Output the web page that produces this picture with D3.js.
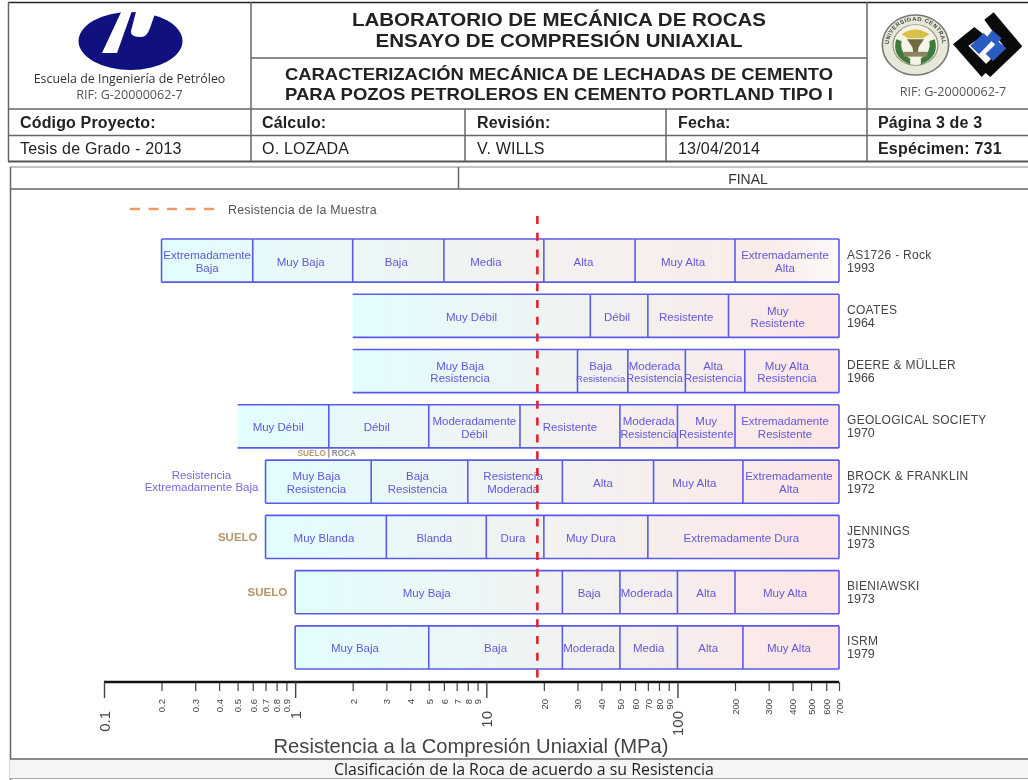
<!DOCTYPE html>
<html>
<head>
<meta charset="utf-8">
<script src="https://cdn.jsdelivr.net/npm/d3@7"></script>
<style>
    html, body { margin: 0; padding: 0; background: #fff; overflow: hidden; }
    svg { display: block; filter: blur(0.5px); font-family: "Liberation Sans", Arial, sans-serif; }
</style>
</head>
<body>
<svg id="chart" width="1028" height="780"></svg>
<script>
// classification schemes, top to bottom
const schemes = ["AS1726 - Rock", "COATES", "DEERE & MÜLLER", "GEOLOGICAL SOCIETY", "BROCK & FRANKLIN", "JENNINGS", "BIENIAWSKI", "ISRM"]
const years = ["1993", "1964", "1966", "1970", "1972", "1973", "1973", "1979"]

// class limits in MPa for each scheme
const limits = [
    [0.2, 0.6, 2, 6, 20, 60, 200, 700],
    [2, 35, 70, 185, 700],
    [2, 30, 55, 110, 225, 700],
    [0.5, 1.5, 5, 15, 50, 100, 200, 700],
    [0.7, 2.5, 8, 25, 75, 220, 700],
    [0.7, 3, 10, 20, 70, 700],
    [1, 25, 50, 100, 200, 700],
    [1, 5, 25, 50, 100, 220, 700],
]

const classNames = [
    ["Extremadamente\nBaja", "Muy Baja", "Baja", "Media", "Alta", "Muy Alta", "Extremadamente\nAlta"],
    ["Muy Débil", "Débil", "Resistente", "Muy\nResistente"],
    ["Muy Baja\nResistencia", "Baja\nResistencia", "Moderada\nResistencia", "Alta\nResistencia", "Muy Alta\nResistencia"],
    ["Muy Débil", "Débil", "Moderadamente\nDébil", "Resistente", "Moderada\nResistencia", "Muy\nResistente", "Extremadamente\nResistente"],
    ["Muy Baja\nResistencia", "Baja\nResistencia", "Resistencia\nModerada", "Alta", "Muy Alta", "Extremadamente\nAlta"],
    ["Muy Blanda", "Blanda", "Dura", "Muy Dura", "Extremadamente Dura"],
    ["Muy Baja", "Baja", "Moderada", "Alta", "Muy Alta"],
    ["Muy Baja", "Baja", "Moderada", "Media", "Alta", "Muy Alta"],
]

const openLeft = ["COATES", "DEERE & MÜLLER", "GEOLOGICAL SOCIETY"]
const sueloRows = ["JENNINGS", "BIENIAWSKI"]

const sampleStrength = 18.5
const soilRockLimit = 1.5

const majorTicks = [0.1, 1, 10, 100]
const minorTicks = [0.2, 0.3, 0.4, 0.5, 0.6, 0.7, 0.8, 0.9, 2, 3, 4, 5, 6, 7, 8, 9,
    20, 30, 40, 50, 60, 70, 80, 90, 200, 300, 400, 500, 600, 700]

const svg = d3.select("#chart")

const x = d3.scaleLog().domain([0.1, 700]).range([104, 839])
const y = d3.scaleBand().domain(schemes).range([239, 669]).paddingInner(0.22)

const barStroke = "#5b5bea"
const barText = "#6257d8"
const lineGrey = "#666"

// some labels sit off the middle of their box in the original
const labelNudge = {
    "0|0": 0, "0|3": -8, "0|4": -6, "1|0": 0, "1|3": -6, "2|0": -5, "2|4": -5, "3|0": -5,
    "3|2": 0, "3|3": 0, "3|4": 0, "3|5": 0, "4|3": -5, "4|4": -4, "5|3": -5,
    "6|1": -2, "6|3": 0, "7|0": -7, "7|1": 0, "7|3": 0,
}

// ---------- report header ----------
function hline(x1, x2, yy, w = 1.5, c = lineGrey) {
    svg.append("line").attr("x1", x1).attr("x2", x2).attr("y1", yy).attr("y2", yy)
        .attr("stroke", c).attr("stroke-width", w)
}

function vline(xx, y1, y2, w = 1.5, c = lineGrey) {
    svg.append("line").attr("x1", xx).attr("x2", xx).attr("y1", y1).attr("y2", y2)
        .attr("stroke", c).attr("stroke-width", w)
}

function label(t, xx, yy, size, opts = {}) {
    const el = svg.append("text")
        .attr("x", xx).attr("y", yy)
        .attr("font-size", size)
        .attr("font-weight", opts.weight || "normal")
        .attr("font-family", opts.family || null)
        .attr("text-anchor", opts.anchor || "start")
        .attr("fill", opts.color || "#222")
        .attr("letter-spacing", opts.spacing || null)
        .text(t)
    if (opts.stretch) el.attr("textLength", opts.stretch).attr("lengthAdjust", "spacingAndGlyphs")
    return el
}

hline(8, 1028, 2.5, 1.5, "#222")
vline(8.5, 2, 161)
hline(251, 867, 58)
hline(8, 1028, 109)
hline(8, 1028, 135.5)
hline(8, 1028, 161.5, 2, "#555")
vline(251, 2, 161)
vline(867, 2, 161)
vline(465, 109, 161)
vline(666, 109, 161)

hline(10, 1028, 167, 1.2, "#888")
vline(10.5, 167, 780, 1.5)
vline(458.5, 167, 189)
hline(10, 1028, 189, 1.5)

label("LABORATORIO DE MECÁNICA DE ROCAS", 559, 26, 18.4, {weight: "bold", anchor: "middle", stretch: 414})
label("ENSAYO DE COMPRESIÓN UNIAXIAL", 559, 47, 18.4, {weight: "bold", anchor: "middle", stretch: 367})
label("CARACTERIZACIÓN MECÁNICA DE LECHADAS DE CEMENTO", 559, 80, 16.6, {weight: "bold", anchor: "middle", stretch: 548})
label("PARA POZOS PETROLEROS EN CEMENTO PORTLAND TIPO I", 559, 100, 16.6, {weight: "bold", anchor: "middle", stretch: 548})

const headerCells = ["Código Proyecto:", "Cálculo:", "Revisión:", "Fecha:", "Página 3 de 3"]
const valueCells = ["Tesis de Grado - 2013", "O. LOZADA", "V. WILLS", "13/04/2014", "Espécimen: 731"]
const cellLeft = [20, 262, 477, 678, 878]
headerCells.forEach((t, i) => label(t, cellLeft[i], 128, 16, {weight: "bold", spacing: 0.15}))
valueCells.forEach((t, i) => label(t, cellLeft[i], 154, 16, {weight: i === 4 ? "bold" : "normal", spacing: 0.2}))
label("FINAL", 748, 184, 14, {anchor: "middle", color: "#333"})

label("Escuela de Ingeniería de Petróleo", 129.5, 83, 12.4, {anchor: "middle", family: "Open Sans", color: "#333"})
label("RIF: G-20000062-7", 129.5, 99, 12.6, {anchor: "middle", family: "Open Sans", color: "#555"})
label("RIF: G-20000062-7", 953, 96, 12.6, {anchor: "middle", family: "Open Sans", color: "#555"})

// school logo
const logo = svg.append("g")
logo.append("ellipse").attr("cx", 130.5).attr("cy", 41).attr("rx", 52).attr("ry", 29).attr("fill", "#10107e")
logo.append("path").attr("d", "M123,8 L133,8 L117,53 L102,53 Z").attr("fill", "#fff")
logo.append("path").attr("d", "M137,8 L131,31 Q130,37 141,37 Q147,37 150,28 L157,8 Z").attr("fill", "#fff")

// university seal
const seal = svg.append("g").attr("transform", "translate(915.5,45) scale(1.07,0.97)")
seal.append("circle").attr("r", 31).attr("fill", "#e8e8da").attr("stroke", "#777").attr("stroke-width", 1.5)
seal.append("circle").attr("r", 21).attr("fill", "#f6f4e8").attr("stroke", "#8c8c70").attr("stroke-width", 1)
svg.append("defs").append("path").attr("id", "sealRing").attr("d", "M-24,6 A24.8,24.8 0 1,1 24,6")
seal.append("text").attr("font-size", 5.6).attr("font-weight", "bold").attr("fill", "#444").attr("letter-spacing", 0.5)
    .append("textPath").attr("href", "#sealRing").attr("startOffset", "50%").attr("text-anchor", "middle")
    .text("UNIVERSIDAD CENTRAL")
seal.append("path").attr("d", "M-18,-6 Q-23,12 -5,20 L-5,14 Q-15,8 -13,-4 Z").attr("fill", "#3d7a3c")
seal.append("path").attr("d", "M18,-6 Q23,12 5,20 L5,14 Q15,8 13,-4 Z").attr("fill", "#3d7a3c")
seal.append("path").attr("d", "M-13,-11 Q0,-21 13,-11 L7,-7 L-7,-7 Z").attr("fill", "#d6c24a")
seal.append("path").attr("d", "M-8,-6 L8,-6 L3,2 L2,8 L-2,8 L-3,2 Z").attr("fill", "#6f6a44")
seal.append("rect").attr("x", -11).attr("y", 7).attr("width", 22).attr("height", 5).attr("fill", "#8a8460")

// foundation logo
const mark = svg.append("g").attr("transform", "translate(875,5) scale(0.3333)")
mark.append("path").attr("fill", "#0a0a0a")
    .attr("d", "M328,44 L356,22 L442,124 L346,216 L318,192 L386,124 Z")
mark.append("path").attr("fill", "#0a0a0a")
    .attr("d", "M234,118 L298,66 L328,90 L280,122 L346,190 L320,216 Z")
mark.append("path").attr("fill", "#2b5cc4").attr("d", "M286,122 L326,84 L350,108 L312,148 Z")
mark.append("path").attr("fill", "#2b5cc4").attr("d", "M352,76 L380,100 L362,120 L336,96 Z")
mark.append("path").attr("fill", "#2b5cc4").attr("d", "M370,110 L394,130 L354,168 L332,146 Z")

// ---------- sample legend ----------
svg.append("line").attr("x1", 130).attr("x2", 215).attr("y1", 209).attr("y2", 209)
    .attr("stroke", "#ee9a62").attr("stroke-width", 2.4).attr("stroke-dasharray", "10 8.5")
label("Resistencia de la Muestra", 228, 214, 12.4, {color: "#555", spacing: 0.25})

// ---------- classification bars ----------
const defs = svg.append("defs")
schemes.forEach((s, i) => {
    const g = defs.append("linearGradient").attr("id", `grad${i}`)
    const first = i === 0
    g.append("stop").attr("offset", "0%").attr("stop-color", "#e2fdff")
    g.append("stop").attr("offset", "50%").attr("stop-color", "#f1f2f1")
    g.append("stop").attr("offset", first ? "90%" : "100%").attr("stop-color", first ? "#f9ece8" : "#fee6e6")
    if (first) g.append("stop").attr("offset", "100%").attr("stop-color", "#fdfafa")
})

const rows = svg.selectAll("g.scheme").data(schemes).join("g").attr("class", "scheme")

rows.each(function (s, i) {
    const row = d3.select(this)
    const lim = limits[i]
    const top = y(s), bottom = y(s) + y.bandwidth()
    const x0 = x(lim[0]), x1 = x(lim[lim.length - 1])

    row.append("rect").attr("x", x0).attr("y", top).attr("width", x1 - x0).attr("height", bottom - top)
        .attr("fill", `url(#grad${i})`)

    ;[top, bottom].forEach(v => row.append("line")
        .attr("x1", x0).attr("x2", x1).attr("y1", v).attr("y2", v)
        .attr("stroke", barStroke).attr("stroke-width", 1.6))

    lim.forEach((v, k) => {
        if (k === 0 && openLeft.includes(s)) return
        row.append("line").attr("x1", x(v)).attr("x2", x(v)).attr("y1", top).attr("y2", bottom)
            .attr("stroke", barStroke).attr("stroke-width", 1.6)
    })

    classNames[i].forEach((name, k) => {
        const nudge = labelNudge[`${i}|${k}`] ?? -2
        const cx = (x(lim[k]) + x(lim[k + 1])) / 2 + nudge
        const width = x(lim[k + 1]) - x(lim[k]) - 1
        const lines = name.split("\n")
        const mid = (top + bottom) / 2
        lines.forEach((ln, n) => {
            const t = row.append("text").attr("x", cx)
                .attr("y", mid + 5 + (n - (lines.length - 1) / 2) * 12.5)
                .attr("text-anchor", "middle").attr("font-size", 11.5).attr("fill", barText).text(ln)
            // long words shrink to fit their class box
            const len = t.node().getComputedTextLength()
            if (len > width) t.attr("font-size", 11.5 * width / len)
        })
    })

    row.append("text").attr("x", 847).attr("y", (top + bottom) / 2 - 2)
        .attr("font-size", 12).attr("fill", "#444").attr("letter-spacing", 0.3).text(s)
    row.append("text").attr("x", 847).attr("y", (top + bottom) / 2 + 11)
        .attr("font-size", 12.5).attr("fill", "#444").text(years[i])

    if (sueloRows.includes(s)) {
        row.append("text").attr("x", x0 - 8).attr("y", (top + bottom) / 2 + 4)
            .attr("text-anchor", "end").attr("font-size", 11.5).attr("font-weight", "bold")
            .attr("fill", "#b5956a").text("SUELO")
    }
})

// label left of the Brock & Franklin bar
const brockMid = y("BROCK & FRANKLIN") + y.bandwidth() / 2
const brockX = x(limits[4][0]) - 64
label("Resistencia", brockX, brockMid - 3, 11.5, {anchor: "middle", color: "#7468e0"})
label("Extremadamente Baja", brockX, brockMid + 9.5, 11.5, {anchor: "middle", color: "#7468e0"})

// soil / rock marker under the Geological Society bar
const geoBottom = y("GEOLOGICAL SOCIETY") + y.bandwidth()
vline(x(soilRockLimit), geoBottom, geoBottom + 10, 1.2, "#888")
label("SUELO", x(soilRockLimit) - 3, geoBottom + 8, 8.2, {anchor: "end", weight: "bold", color: "#b8a070"})
label("ROCA", x(soilRockLimit) + 3, geoBottom + 8, 8.2, {weight: "bold", color: "#888"})

// sample strength line
svg.append("line").attr("x1", x(sampleStrength)).attr("x2", x(sampleStrength)).attr("y1", 216).attr("y2", 681)
    .attr("stroke", "#e8202e").attr("stroke-width", 2.6).attr("stroke-dasharray", "8 8.8")

// ---------- axis ----------
const axisY = 682

const minorAxis = svg.append("g").attr("transform", `translate(0,${axisY})`)
    .call(d3.axisBottom(x).tickValues(minorTicks).tickSize(9).tickFormat(d => d))
minorAxis.select(".domain").remove()
minorAxis.selectAll("line").attr("stroke", "#444").attr("stroke-width", 1.2)
minorAxis.selectAll("text")
    .attr("x", 0).attr("y", 0).attr("dy", "0.35em")
    .attr("transform", "translate(0,17) rotate(-90)")
    .attr("text-anchor", "end").attr("font-size", 9.5).attr("font-family", null).attr("fill", "#444")

const majorAxis = svg.append("g").attr("transform", `translate(0,${axisY})`)
    .call(d3.axisBottom(x).tickValues(majorTicks).tickSize(16).tickFormat(d => d))
majorAxis.select(".domain").attr("stroke", "#111").attr("stroke-width", 2.4).attr("d", `M${x(0.1)},0H${x(700)}`)
majorAxis.selectAll("line").attr("stroke", "#444").attr("stroke-width", 1.4)
majorAxis.selectAll("text")
    .attr("x", 0).attr("y", 0).attr("dy", "0.35em")
    .attr("transform", "translate(0,29) rotate(-90)")
    .attr("text-anchor", "end").attr("font-size", 15).attr("font-family", null).attr("fill", "#444")

label("Resistencia a la Compresión Uniaxial (MPa)", 471, 753, 20.2, {anchor: "middle", color: "#444"})

// footer bar
svg.append("rect").attr("x", 10).attr("y", 759).attr("width", 1018).attr("height", 19).attr("fill", "#f5f5f5")
hline(10, 1028, 759, 1.5)
hline(10, 1028, 778.5, 1.2, "#aaa")
label("Clasificación de la Roca de acuerdo a su Resistencia", 524, 774.5, 15.9, {anchor: "middle", family: "Open Sans", color: "#222"})
</script>
</body>
</html>
